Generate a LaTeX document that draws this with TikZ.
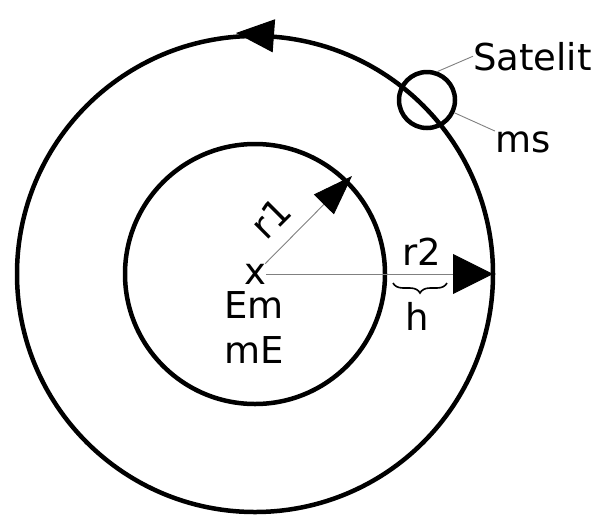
\documentclass[tikz,border=0pt]{standalone}
\usepackage{fontspec}
\setmainfont{DejaVu Sans}
\usetikzlibrary{arrows.meta,decorations.pathreplacing}
\tikzset{>=Latex,
  every node/.style={font=\fontsize{37}{44}\selectfont,inner sep=0pt},
  orbit/.style={draw,line width=4.5pt},
  vec/.style={draw=gray,line width=.9pt,-{Triangle[length=40pt,width=#1,color=black]}},
  leader/.style={draw=gray,line width=.9pt},
  sat/.style={circle,draw,line width=4.5pt,minimum size=56pt}}
\begin{document}
\begin{tikzpicture}[x=1pt,y=-1pt]
\useasboundingbox (0,0) rectangle (605,515);
% earth and orbit
\coordinate (E) at (255,274);
\draw[orbit] (E) circle[radius=130];
\draw[orbit] (E) circle[radius=238];
\coordinate (dirA) at (290,37);\coordinate (dirB) at (236,33);
\draw[-{Triangle[length=38pt,width=33pt]},line width=1pt] (dirA) -- (dirB);
% satellite
\node[sat] (satc) at (427,100) {};
\node[anchor=base west] (satlbl) at (473,70) {Satelit};
\node[anchor=base west] (mslbl) at (495,152) {ms};
\draw[leader] (satc.70) -- (satlbl.west);
\draw[leader] (satc.-25) -- (mslbl.north west);
% radii
\node (ctr) at (E) {x};
\node[anchor=base] (em) at (254,318) {Em};
\node[anchor=base] (me) at (254,363) {mE};
\coordinate (r1tip) at (352,176);\coordinate (r2tip) at (493,274);
\draw[vec=28pt] (ctr) -- (r1tip);
\draw[vec=40pt] (ctr) -- (r2tip);
\node[rotate=45] (r1lbl) at (271,218) {r1};
\node[anchor=base] (r2lbl) at (422,265) {r2};
\coordinate (hA) at (447,283);\coordinate (hB) at (393,283);
\draw[decorate,decoration={brace,amplitude=10pt},line width=1.6pt] (hA) -- (hB);
\node[anchor=base] (hlbl) at (417,330) {h};
\end{tikzpicture}
\end{document}
